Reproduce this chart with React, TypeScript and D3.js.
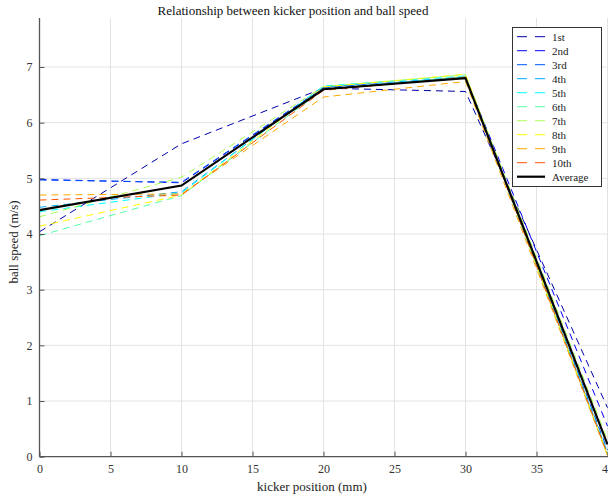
import React, { useEffect, useRef } from "react";
import * as d3 from "d3";

// kicker positions (mm)
const positions = [0, 10, 20, 30, 40];
const seriesNames = ["1st", "2nd", "3rd", "4th", "5th", "6th", "7th", "8th", "9th", "10th"];
// ball speed per trial (m/s)
const trial1 = [4.04, 5.62, 6.62, 6.56, 0.88];
const trial2 = [4.98, 4.92, 6.62, 6.82, 0.55];
const trial3 = [4.97, 4.93, 6.63, 6.8, 0.12];
const trial4 = [4.48, 4.76, 6.64, 6.82, 0.08];
const trial5 = [4.4, 4.74, 6.66, 6.84, 0.05];
const trial6 = [3.97, 4.69, 6.6, 6.83, 0.03];
const trial7 = [4.31, 5.02, 6.65, 6.86, 0.3];
const trial8 = [4.14, 4.7, 6.64, 6.87, 0.02];
const trial9 = [4.7, 4.72, 6.46, 6.74, 0.02];
const trial10 = [4.61, 4.7, 6.58, 6.82, 0.04];
const average = [4.43, 4.87, 6.6, 6.8, 0.22];
const trials = [trial1, trial2, trial3, trial4, trial5, trial6, trial7, trial8, trial9, trial10];
// jet(10)
const colors = ["#0000aa", "#0000ff", "#0055ff", "#00aaff", "#00ffff", "#55ffaa", "#aaff55", "#ffff00", "#ffaa00", "#ff5500"];
const xTicks = [0, 5, 10, 15, 20, 25, 30, 35, 40];
const yTicks = [0, 1, 2, 3, 4, 5, 6, 7];

export default function App() {
  const ref = useRef<SVGSVGElement>(null);

  useEffect(() => {
    const svg = d3.select(ref.current);
    svg.selectAll("*").remove();
    const font = "'Liberation Serif', 'Times New Roman', serif";

    const x = d3.scaleLinear().domain([0, 40]).range([39.5, 607.5]);
    const y = d3.scaleLinear().domain([0, 7.88]).range([456.7, 18]);

    // grid
    const grid = svg.append("g");
    grid.selectAll(".gx").data(xTicks.slice(1)).enter().append("line")
      .attr("x1", (d) => x(d)).attr("x2", (d) => x(d))
      .attr("y1", y(0)).attr("y2", y(7.88))
      .attr("stroke", "#e3e3e3").attr("stroke-width", 1);
    grid.selectAll(".gy").data(yTicks.slice(1)).enter().append("line")
      .attr("x1", x(0)).attr("x2", 608)
      .attr("y1", (d) => y(d)).attr("y2", (d) => y(d))
      .attr("stroke", "#e3e3e3").attr("stroke-width", 1);

    // lines
    const line = d3.line<number>()
      .x((_, i) => x(positions[i]))
      .y((d) => y(d));

    trials.forEach((t, i) => {
      svg.append("path")
        .attr("d", line(t))
        .attr("fill", "none")
        .attr("stroke", colors[i])
        .attr("stroke-width", 1)
        .attr("stroke-dasharray", "7,5");
    });
    svg.append("path")
      .attr("d", line(average))
      .attr("fill", "none")
      .attr("stroke", "#000")
      .attr("stroke-width", 2.2);

    // axes
    const xAxis = svg.append("g").attr("transform", `translate(0,${y(0)})`)
      .call(d3.axisBottom(x).tickValues(xTicks).tickSize(-5).tickPadding(8).tickFormat(d3.format("d")));
    const yAxis = svg.append("g").attr("transform", `translate(${x(0)},0)`)
      .call(d3.axisLeft(y).tickValues(yTicks).tickSize(-5).tickPadding(7).tickFormat(d3.format("d")));
    [xAxis, yAxis].forEach((a) => {
      a.select(".domain").attr("stroke", "#555").attr("stroke-width", 1.3);
      a.selectAll(".tick line").attr("stroke", "#555");
      a.selectAll(".tick text").attr("fill", "#333").style("font-family", font).style("font-size", "12px");
    });
    xAxis.select(".domain").attr("d", `M${x(0)},0H608`);
    yAxis.select(".domain").attr("d", `M0,${y(0)}V${y(7.88)}`);

    // labels
    svg.append("text").attr("x", 293).attr("y", 15).attr("text-anchor", "middle")
      .style("font-family", font).style("font-size", "13px").attr("fill", "#111")
      .text("Relationship between kicker position and ball speed");
    svg.append("text").attr("x", 312).attr("y", 491).attr("text-anchor", "middle")
      .style("font-family", font).style("font-size", "13px").attr("fill", "#222")
      .text("kicker position (mm)");
    svg.append("text").attr("transform", "translate(18,242) rotate(-90)").attr("text-anchor", "middle")
      .style("font-family", font).style("font-size", "13px").attr("fill", "#222")
      .text("ball speed (m/s)");

    // legend
    const lg = svg.append("g");
    lg.append("rect").attr("x", 512.5).attr("y", 27.5).attr("width", 89).attr("height", 159)
      .attr("fill", "#fff").attr("stroke", "#333").attr("stroke-width", 1);
    const names = [...seriesNames, "Average"];
    names.forEach((n, i) => {
      const ly = 36.7 + i * 14;
      const isAvg = i === 10;
      lg.append("line").attr("x1", 517).attr("x2", 545).attr("y1", ly).attr("y2", ly)
        .attr("stroke", isAvg ? "#000" : colors[i])
        .attr("stroke-width", isAvg ? 2.2 : 1)
        .attr("stroke-dasharray", isAvg ? null : "10,8");
      lg.append("text").attr("x", 552).attr("y", ly).attr("dy", "0.35em")
        .style("font-family", font).style("font-size", "11px").attr("fill", "#222")
        .text(n);
    });
  }, []);

  return (
    <svg ref={ref} width={608} height={498}
      style={{ position: "absolute", left: 0, top: 0, background: "#fff" }} />
  );
}
